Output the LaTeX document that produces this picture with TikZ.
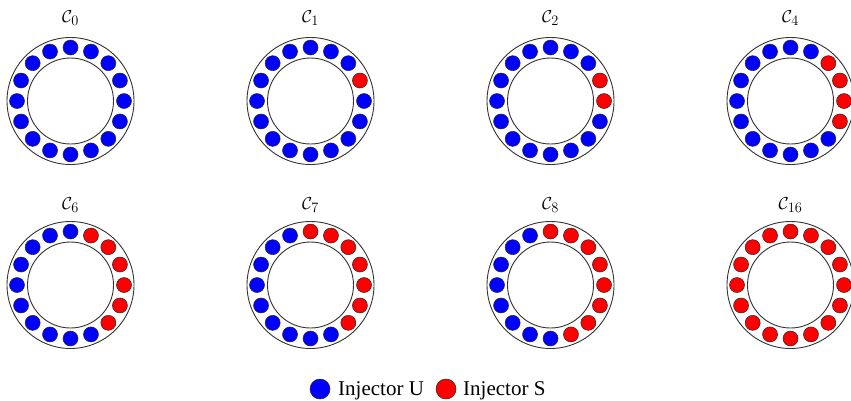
\documentclass[tikz,border=0pt]{standalone}
\usepackage{fontspec}
\newfontfamily\legendfont{Liberation Serif}
\usetikzlibrary{calc}
\definecolor{injU}{RGB}{0,0,255}
\definecolor{injS}{RGB}{255,0,0}
\begin{document}
\begin{tikzpicture}[x=1pt,y=-1pt,
  ring/.style={circle,draw=black!80,line width=0.9pt,inner sep=0pt},
  udot/.style={circle,draw=black!85,line width=0.5pt,fill=injU,minimum size=15pt,inner sep=0pt},
  sdot/.style={circle,draw=black!85,line width=0.5pt,fill=injS,minimum size=15pt,inner sep=0pt},
  lbl/.style={font=\fontsize{19}{22}\selectfont,inner sep=0pt},
  legtext/.style={font=\legendfont\fontsize{21}{24}\selectfont,anchor=base west,inner sep=0pt}]
\useasboundingbox (0,0) rectangle (851,400);
\fill[white] (0,0) rectangle (851,400);
\foreach \name/\cx/\cy/\ly/\sub/\nred in {
  c0/70.5/101/18/0/0, c1/310.5/101/18/1/1, c2/550.5/101/18/2/2, c4/790.5/101/18/4/4,
  c6/70.5/285/205/6/6, c7/310.5/285/205/7/7, c8/550.5/285/205/8/8, c16/790.5/285/205/16/16}{
  \coordinate (\name) at (\cx,\cy);
  \node[ring,minimum size=127pt] (\name-out) at (\name) {};
  \node[ring,minimum size=86pt] (\name-in) at (\name) {};
  \node[lbl] (\name-lbl) at (\cx,\ly) {$\mathcal{C}_{\sub}$};
  \foreach \k/\rk in {0/2,1/1,2/3,3/5,4/7,5/9,6/11,7/13,8/15,9/16,10/14,11/12,12/10,13/8,14/6,15/4}{
    \ifnum\rk>\nred \def\dstyle{udot}\else\def\dstyle{sdot}\fi
    \node[\dstyle] (\name-d\k) at ($(\name)+(\k*22.5:53.5pt)$) {};
  }
}
\node[udot,minimum size=20pt] (legU) at (320,389) {};
\node[legtext] (legUt) at (338,395) {Injector U};
\node[sdot,minimum size=20pt] (legS) at (446,389) {};
\node[legtext] (legSt) at (463,395) {Injector S};
\end{tikzpicture}
\end{document}
